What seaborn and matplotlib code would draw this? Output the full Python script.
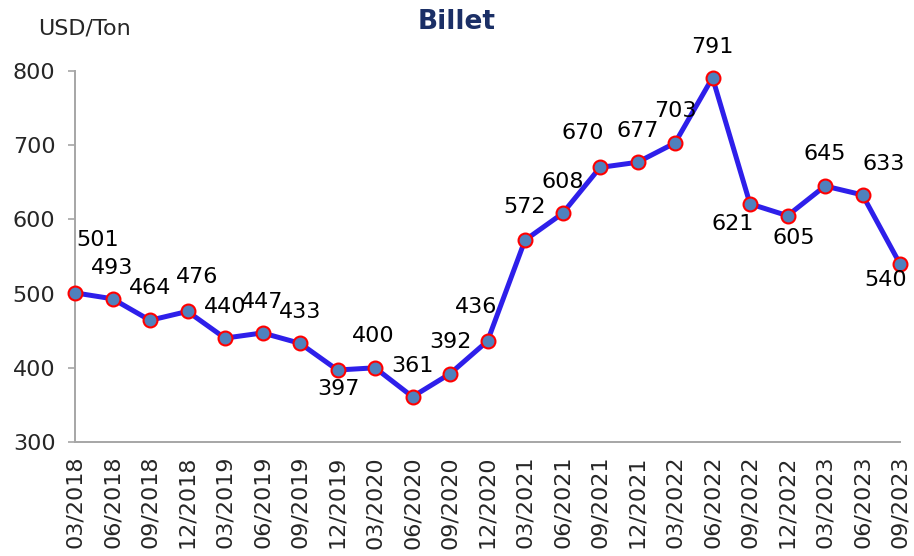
import pandas as pd
import matplotlib
matplotlib.use("Agg")
import matplotlib.pyplot as plt
import seaborn as sns

quarters = ["03/2018", "06/2018", "09/2018", "12/2018", "03/2019", "06/2019", "09/2019", "12/2019",
            "03/2020", "06/2020", "09/2020", "12/2020", "03/2021", "06/2021", "09/2021", "12/2021",
            "03/2022", "06/2022", "09/2022", "12/2022", "03/2023", "06/2023", "09/2023"]
prices = [501, 493, 464, 476, 440, 447, 433, 397, 400, 361, 392, 436,
          572, 608, 670, 677, 703, 791, 621, 605, 645, 633, 540]

# label offsets in pixels (dx, dy) relative to each point
label_offsets = [(23, 53), (0, 31), (0, 32), (10, 34), (0, 31), (0, 31), (0, 31), (1, -19),
                 (-2, 32), (0, 31), (0, 32), (-11, 34), (0, 33), (0, 31), (-17, 34), (0, 31),
                 (0, 32), (0, 31), (-17, -20), (6, -22), (0, 32), (21, 31), (-14, -16)]

df = pd.DataFrame({"idx": range(len(quarters)), "price": prices})

sns.set_style("white")
plt.rcParams["font.family"] = ["DejaVu Sans"]
fs = 16

fig = plt.figure(figsize=(9.14, 5.56), dpi=100)
ax = fig.add_axes([75 / 914, 1 - 442 / 556, 825 / 914, 371 / 556])

sns.lineplot(data=df, x="idx", y="price", ax=ax, color="#2E1FEA", linewidth=3.6,
             marker="o", markersize=10, markerfacecolor="#4F81BD",
             markeredgecolor="#FF0000", markeredgewidth=1.5, clip_on=False, zorder=3)

for i, (v, (dx, dy)) in enumerate(zip(prices, label_offsets)):
    ax.annotate(str(v), (i, v), xytext=(dx, dy), textcoords="offset pixels",
                ha="center", va="center", fontsize=fs, color="black", zorder=4)

ax.set_xlim(0, len(quarters) - 1)
ax.set_ylim(300, 800)
ax.set_yticks([300, 400, 500, 600, 700, 800])
ax.set_xticks(range(len(quarters)))
ax.set_xticklabels(quarters, rotation=90)
ax.set_xlabel("")
ax.set_ylabel("")

ax.tick_params(axis="y", length=5, width=1.2, color="#A6A6A6", pad=9, labelsize=fs, direction="out", left=True)
ax.tick_params(axis="x", length=0, pad=10, labelsize=fs)

for s in ["top", "right"]:
    ax.spines[s].set_visible(False)
for s in ["left", "bottom"]:
    ax.spines[s].set_color("#A6A6A6")
    ax.spines[s].set_linewidth(1.4)
ax.grid(False)

fig.text(0.5, 1 - 22 / 556, "Billet", ha="center", va="center", fontsize=19,
         fontweight="bold", color="#1B2F66")
fig.text(38 / 914, 1 - 28 / 556, "USD/Ton", ha="left", va="center", fontsize=fs)

fig.savefig("out.png", dpi=100)
